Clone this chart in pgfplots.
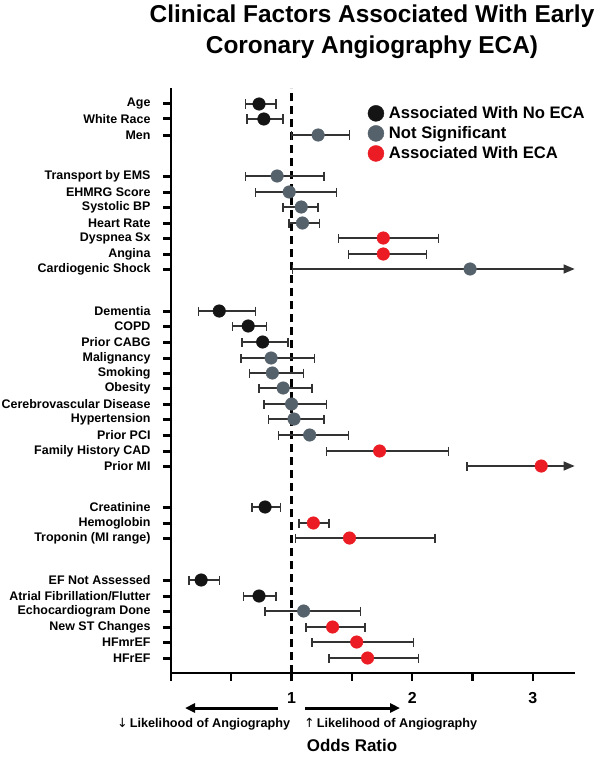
\documentclass[border=0pt]{standalone}
\usepackage{pgfplots}
\pgfplotsset{compat=1.18}
\usepackage{pgfplotstable}
\usepackage{fontspec}
\setmainfont{Liberation Sans}
\newfontfamily\symfont{DejaVu Sans}
\usetikzlibrary{arrows.meta}

\definecolor{ncol}{HTML}{141414}
\definecolor{gcol}{HTML}{56626B}
\definecolor{rcol}{HTML}{EC1C24}
\definecolor{wcol}{HTML}{333333}

% y = minus the row position, x = odds ratio, lo/hi = 95% CI
\pgfplotstableread{
y x lo hi
-104 0.73 0.62 0.87
-119 0.77 0.63 0.93
-311 0.40 0.23 0.70
-326 0.64 0.51 0.79
-342 0.76 0.59 0.97
-507 0.78 0.67 0.91
-580 0.25 0.15 0.40
-596 0.73 0.60 0.87
}\noeca
\pgfplotstableread{
y x lo hi
-135 1.22 1.00 1.48
-176 0.88 0.62 1.27
-192 0.98 0.70 1.37
-207 1.08 0.93 1.22
-223 1.09 0.98 1.23
-358 0.83 0.58 1.19
-373 0.84 0.65 1.10
-388 0.93 0.73 1.17
-404 1.00 0.77 1.29
-419 1.02 0.81 1.27
-435 1.15 0.89 1.47
-611 1.10 0.78 1.57
}\notsig
\pgfplotstableread{
y x lo hi
-238 1.76 1.39 2.22
-254 1.76 1.47 2.12
-451 1.73 1.29 2.30
-523 1.18 1.06 1.31
-538 1.48 1.03 2.19
-627 1.34 1.12 1.61
-642 1.54 1.17 2.01
-658 1.63 1.31 2.05
}\eca

\pgfplotsset{
  ci/.style={only marks, mark=*, mark size=6.3bp,
    error bars/.cd, x dir=both, x explicit,
    error bar style={wcol, line width=1.4bp},
    error mark options={rotate=90, wcol, line width=1.4bp, mark size=4.5bp}},
}

\begin{document}
\begin{tikzpicture}
\path[use as bounding box] (0,0) rectangle (600bp,-757bp);
\begin{axis}[
  at={(171bp,-673bp)}, anchor=south west,
  scale only axis, width=404bp, height=585bp,
  xmin=0, xmax=3.35, ymin=-673, ymax=-88,
  axis x line*=bottom, axis y line*=left,
  axis line style={line width=2.6bp, -},
  xtick={0,0.5,...,3}, xticklabels={,,1,,2,,3},
  ytick={-104,-119,-135,-176,-192,-207,-223,-238,-254,-269,-311,-326,-342,-358,-373,-388,-404,-419,-435,-451,-466,-507,-523,-538,-580,-596,-611,-627,-642,-658},
  yticklabels={Age,White Race,Men,Transport by EMS,EHMRG Score,Systolic BP,Heart Rate,Dyspnea Sx,Angina,Cardiogenic Shock,Dementia,COPD,Prior CABG,Malignancy,Smoking,Obesity,Cerebrovascular Disease,Hypertension,Prior PCI,Family History CAD,Prior MI,Creatinine,Hemoglobin,Troponin (MI range),EF Not Assessed,Atrial Fibrillation/Flutter,Echocardiogram Done,New ST Changes,HFmrEF,HFrEF},
  tick align=outside, major tick length=8bp,
  x tick style={line width=2.2bp, black},
  y tick style={line width=3bp, black},
  xticklabel style={font=\bfseries\fontsize{16}{16}\selectfont, yshift=-8bp},
  yticklabel style={font=\bfseries\fontsize{12.5}{13}\selectfont, xshift=-9bp},
  clip=false,
  legend cell align=left,
  legend style={at={(axis description cs:0.487,0.972)}, anchor=north west,
    draw=none, fill=none, inner sep=0pt, row sep=2.5bp, column sep=3bp,
    nodes={inner sep=2bp},
    font=\bfseries\fontsize{16.7}{18}\selectfont},
]
\addplot[forget plot, line width=3bp, dash pattern=on 8bp off 5bp] coordinates {(1,-673) (1,-88)};
\addplot[forget plot, wcol, line width=1.4bp, {Bar[width=9bp]}-{Triangle[length=11bp,width=9bp]}, shorten >=-2bp] coordinates {(1.00,-269) (3.33,-269)};
\addplot[forget plot, wcol, line width=1.4bp, {Bar[width=9bp]}-{Triangle[length=11bp,width=9bp]}, shorten >=-2bp] coordinates {(2.45,-466) (3.33,-466)};
\addplot[forget plot, ncol, ci] table[x=x, y=y, x error plus expr=\thisrow{hi}-\thisrow{x}, x error minus expr=\thisrow{x}-\thisrow{lo}] {\noeca};
\addplot[forget plot, gcol, ci] table[x=x, y=y, x error plus expr=\thisrow{hi}-\thisrow{x}, x error minus expr=\thisrow{x}-\thisrow{lo}] {\notsig};
\addplot[forget plot, rcol, ci] table[x=x, y=y, x error plus expr=\thisrow{hi}-\thisrow{x}, x error minus expr=\thisrow{x}-\thisrow{lo}] {\eca};
\addplot[forget plot, only marks, mark=*, mark size=6.3bp, gcol] coordinates {(2.48,-269)};
\addplot[forget plot, only marks, mark=*, mark size=6.3bp, rcol] coordinates {(3.07,-466)};
\addlegendimage{only marks, mark=*, mark size=8bp, ncol}
\addlegendentry{Associated With No ECA}
\addlegendimage{only marks, mark=*, mark size=8bp, gcol}
\addlegendentry{Not Significant}
\addlegendimage{only marks, mark=*, mark size=8bp, rcol}
\addlegendentry{Associated With ECA}
\end{axis}
\node[anchor=base, inner sep=0pt, font=\bfseries\fontsize{24.5}{26}\selectfont] at (372bp,-22bp) {Clinical Factors Associated With Early};
\node[anchor=base, inner sep=0pt, font=\bfseries\fontsize{24.5}{26}\selectfont] at (372bp,-53bp) {Coronary Angiography ECA)};
\draw[line width=3bp, -{Triangle[length=10bp,width=9bp]}] (278bp,-708bp) -- (185bp,-708bp);
\draw[line width=3bp, -{Triangle[length=10bp,width=9bp]}] (305bp,-708bp) -- (400bp,-708bp);
\node[anchor=base west, inner sep=0pt, font=\bfseries\fontsize{12.7}{14}\selectfont] at (117bp,-727bp) {{\symfont\mdseries ↓}\,Likelihood of Angiography};
\node[anchor=base west, inner sep=0pt, font=\bfseries\fontsize{12.7}{14}\selectfont] at (304bp,-727bp) {{\symfont\mdseries ↑}\,Likelihood of Angiography};
\node[anchor=base, inner sep=0pt, font=\bfseries\fontsize{17}{18}\selectfont] at (352bp,-751bp) {Odds Ratio};
\end{tikzpicture}
\end{document}
